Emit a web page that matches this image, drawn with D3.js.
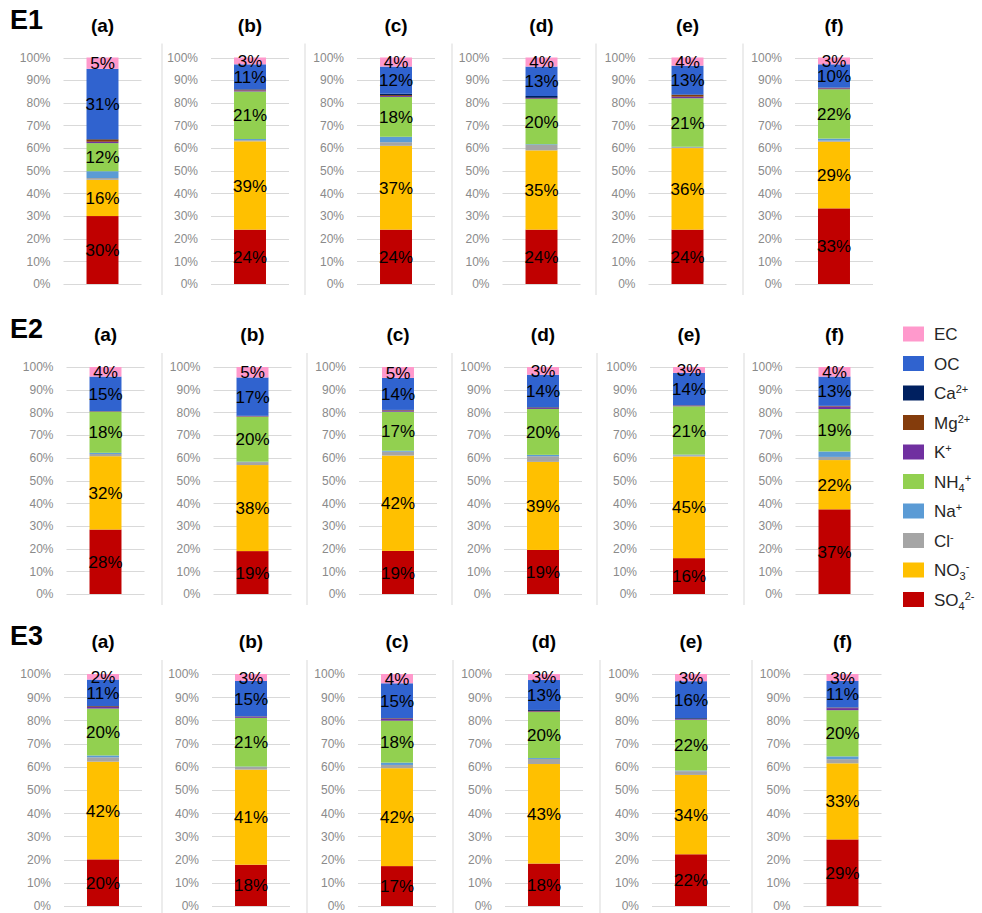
<!DOCTYPE html>
<html>
<head>
<meta charset="utf-8">
<script src="https://cdn.jsdelivr.net/npm/d3@7"></script>
<style>
  body { margin: 0; background: #fff; }
  svg { display: block; }
  text { font-family: "Liberation Sans", Arial, sans-serif; }
</style>
</head>
<body>
<svg id="chart" width="982" height="913"></svg>
<script>
// ---- data -------------------------------------------------------------
const rowNames = ["E1", "E2", "E3"];
const panelNames = ["(a)", "(b)", "(c)", "(d)", "(e)", "(f)"];
const yTicks = [0, 10, 20, 30, 40, 50, 60, 70, 80, 90, 100];

// mass fraction (%) of each component; rows E1..E3, columns (a)..(f)
const so4 = [
  [30, 24, 24, 24, 24, 33.4],
  [28.4, 18.9, 19, 19.4, 15.8, 37.3],
  [20.1, 17.8, 17.2, 18.3, 22.3, 28.7]
];
const no3 = [
  [16, 39, 37, 35, 36, 29.4],
  [32.3, 37.9, 42, 38.8, 44.8, 21.7],
  [42.1, 41.0, 42.2, 42.9, 34.2, 32.8]
];
const cl = [
  [0.8, 0.5, 1.6, 2.4, 0.4, 0.5],
  [1.0, 1.3, 1.7, 2.5, 0.5, 1.4],
  [1.9, 1.1, 1.4, 2.2, 1.6, 1.8]
];
const na = [
  [3, 0.5, 2.4, 0.3, 0.2, 0.9],
  [0.5, 0.2, 0.4, 0.6, 0.3, 2.4],
  [0.8, 0.2, 1.0, 0.4, 0.3, 1.2]
];
const nh4 = [
  [12.4, 21, 17.6, 20, 21.4, 21.8],
  [18.1, 19.8, 17.2, 20.2, 21.3, 18.7],
  [20.2, 21.0, 18.1, 19.8, 21.9, 19.9]
];
const k = [
  [0.6, 0.5, 0.4, 0.3, 0.7, 0.4],
  [0.1, 0.2, 0.5, 0.4, 0.3, 1.1],
  [0.7, 0.5, 0.8, 0.3, 0.3, 0.9]
];
const mg = [
  [1, 0.3, 0.4, 0.2, 0.8, 0.2],
  [0.1, 0.1, 0.2, 0.2, 0.1, 0.2],
  [0.3, 0.1, 0.2, 0.2, 0.1, 0.2]
];
const ca = [
  [0.2, 0.2, 0.6, 0.8, 0.2, 0.1],
  [0.1, 0.1, 0.1, 0.2, 0.1, 0.1],
  [0.1, 0.1, 0.1, 0.4, 0.3, 0.1]
];
const oc = [
  [31, 11, 12, 13, 12.7, 10.3],
  [15.2, 16.9, 14.1, 14.3, 14.2, 12.9],
  [11.4, 15.2, 15.0, 12.9, 15.9, 11.4]
];
const ec = [
  [5, 3, 4, 4, 3.6, 3.0],
  [4.2, 4.6, 4.8, 3.4, 2.6, 4.2],
  [2.4, 3.0, 4.0, 2.6, 3.1, 3.0]
];

// stacking order, bottom to top
const species = ["SO4", "NO3", "Cl", "Na", "NH4", "K", "Mg", "Ca", "OC", "EC"];
const speciesData = { SO4: so4, NO3: no3, Cl: cl, Na: na, NH4: nh4, K: k, Mg: mg, Ca: ca, OC: oc, EC: ec };
const labelled = ["SO4", "NO3", "NH4", "OC", "EC"];
const colors = {
  EC: "#ff99cc", OC: "#3063cf", Ca: "#002060", Mg: "#843c0c", K: "#7030a0",
  NH4: "#92d050", Na: "#5b9bd5", Cl: "#a5a5a5", NO3: "#ffc000", SO4: "#c00000"
};
// legend entries, top to bottom, with sub/superscript parts
const legendItems = [
  { key: "EC",  parts: [["EC", ""]] },
  { key: "OC",  parts: [["OC", ""]] },
  { key: "Ca",  parts: [["Ca", ""], ["2+", "sup"]] },
  { key: "Mg",  parts: [["Mg", ""], ["2+", "sup"]] },
  { key: "K",   parts: [["K", ""], ["+", "sup"]] },
  { key: "NH4", parts: [["NH", ""], ["4", "sub"], ["+", "sup"]] },
  { key: "Na",  parts: [["Na", ""], ["+", "sup"]] },
  { key: "Cl",  parts: [["Cl", ""], ["-", "sup"]] },
  { key: "NO3", parts: [["NO", ""], ["3", "sub"], ["-", "sup"]] },
  { key: "SO4", parts: [["SO", ""], ["4", "sub"], ["2-", "sup"]] }
];

// ---- layout -----------------------------------------------------------
const rowLayout = [
  { top: 57.5, bottom: 284, centers: [102.5, 250, 396, 541.5, 687.5, 834], seps: [162, 305, 452, 596, 743] },
  { top: 367,  bottom: 594, centers: [105.5, 252.5, 398, 543, 689, 834.5], seps: [162, 307, 452, 597, 744] },
  { top: 674,  bottom: 906, centers: [103, 251, 397, 544, 691, 842.5], seps: [162, 307, 453, 600, 752] }
];
const gridHalf = 39;

const svg = d3.select("#chart");
const stack = d3.stack().keys(species);

rowNames.forEach((rowName, r) => {
  const L = rowLayout[r];
  const g = svg.append("g");
  const y = d3.scaleLinear().domain([0, 100]).range([L.bottom, L.top]);

  g.append("text")
    .attr("x", 10).attr("y", L.top - 29)
    .attr("font-size", 27).attr("font-weight", "bold").attr("fill", "#000")
    .text(rowName);

  L.seps.forEach(sx => {
    g.append("line")
      .attr("x1", sx).attr("x2", sx)
      .attr("y1", L.top - 14).attr("y2", L.bottom + 11)
      .attr("stroke", "#d9d9d9").attr("stroke-width", 1);
  });

  panelNames.forEach((pName, c) => {
    const cx = L.centers[c];
    const pg = g.append("g");
    const x = d3.scaleBand().domain([pName])
      .range([cx - gridHalf, cx + gridHalf])
      .paddingInner(0).paddingOuter(0.72);

    // gridlines
    pg.append("g").selectAll("line").data(yTicks).join("line")
      .attr("x1", cx - gridHalf).attr("x2", cx + gridHalf)
      .attr("y1", d => Math.round(y(d)) + 0.5).attr("y2", d => Math.round(y(d)) + 0.5)
      .attr("stroke", "#d9d9d9").attr("stroke-width", 1);

    // y axis labels
    const axis = d3.axisLeft(y).tickValues(yTicks).tickFormat(d => d + "%").tickSize(0).tickPadding(0);
    const ax = pg.append("g").attr("transform", `translate(${cx - 52},0)`).call(axis);
    ax.select(".domain").remove();
    ax.selectAll("text").attr("font-size", 12).attr("fill", "#8a8a8a")
      .attr("font-family", "'Liberation Sans', Arial, sans-serif");

    // panel title
    pg.append("text")
      .attr("x", cx).attr("y", L.top - 26)
      .attr("text-anchor", "middle")
      .attr("font-size", 19).attr("font-weight", "bold").attr("fill", "#000")
      .text(pName);

    // stacked bar
    const row = {};
    species.forEach(s => { row[s] = speciesData[s][r][c]; });
    const series = stack([row]);
    const bw = x.bandwidth();
    series.forEach(sr => {
      const d = sr[0];
      pg.append("rect")
        .attr("x", x(pName)).attr("width", bw)
        .attr("y", y(d[1])).attr("height", y(d[0]) - y(d[1]))
        .attr("fill", colors[sr.key]);
    });
    series.filter(sr => labelled.includes(sr.key)).forEach(sr => {
      const d = sr[0];
      pg.append("text")
        .attr("x", x(pName) + bw / 2)
        .attr("y", y((d[0] + d[1]) / 2))
        .attr("dy", "0.36em")
        .attr("text-anchor", "middle")
        .attr("font-size", 17).attr("fill", "#000")
        .text(Math.round(d[1] - d[0]) + "%");
    });
  });
});

// ---- legend -----------------------------------------------------------
const lg = svg.append("g");
const offsets = { "": 0, sup: -6, sub: 4 };
legendItems.forEach((item, i) => {
  const cy = 334 + i * 29.5;
  lg.append("rect")
    .attr("x", 903).attr("y", cy - 7.5).attr("width", 21).attr("height", 15)
    .attr("fill", colors[item.key]);
  const t = lg.append("text")
    .attr("x", 934).attr("y", cy + 6)
    .attr("font-size", 17).attr("fill", "#262626");
  let cur = 0;
  item.parts.forEach(([txt, mode]) => {
    const target = offsets[mode];
    t.append("tspan")
      .attr("dy", target - cur)
      .attr("font-size", mode ? 11 : 17)
      .text(txt);
    cur = target;
  });
});
</script>
</body>
</html>
